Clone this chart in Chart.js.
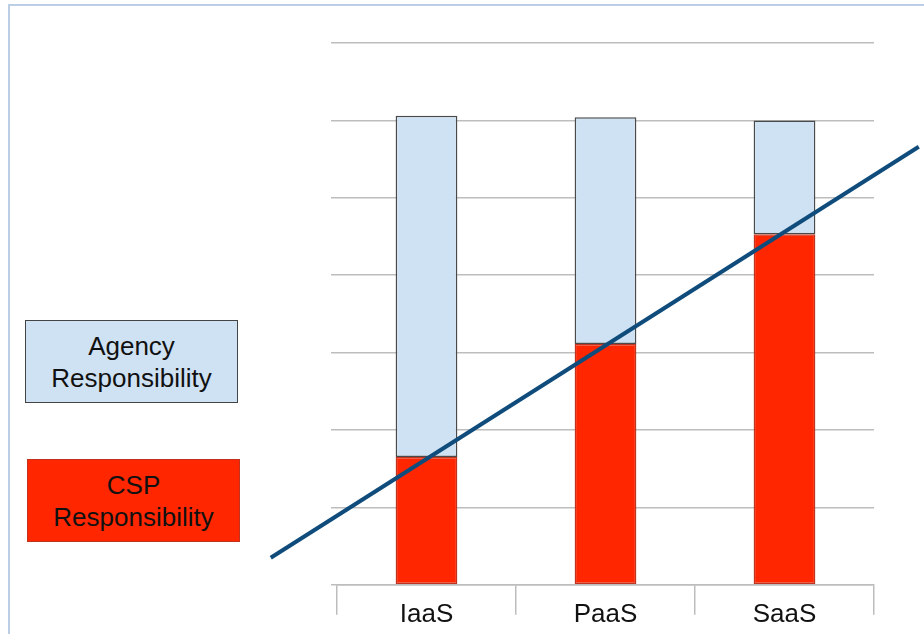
<!DOCTYPE html>
<html>
<head>
<meta charset="utf-8">
<script src="https://cdn.jsdelivr.net/npm/chart.js@4.4.1/dist/chart.umd.min.js"></script>
<style>
  html, body { margin: 0; padding: 0; background: #fff; }
  #wrap { position: relative; width: 924px; height: 634px; overflow: hidden; }
  #frame { position: absolute; left: 8px; top: 4px; right: -10px; bottom: -10px;
           border-left: 2px solid #bccde6; border-top: 2px solid #bccde6; }
  #chart { position: absolute; left: 0; top: 0; }
  .key { position: absolute; box-sizing: border-box; display: flex; align-items: center;
         justify-content: center; text-align: center; font-family: "Liberation Sans", Arial, sans-serif;
         font-size: 26px; line-height: 32px; color: #111; }
</style>
</head>
<body>
<div id="wrap">
  <div id="frame"></div>
  <canvas id="chart" width="924" height="634"></canvas>
  <div id="keys"></div>
</div>
<script>
// categories and series values (units of gridlines)
const categories = ['IaaS', 'PaaS', 'SaaS']
const seriesNames = ['Agency\nResponsibility', 'CSP\nResponsibility']
const agencyValues = [4.41, 2.93, 1.47]
const cspValues = [1.65, 3.11, 4.53]
// trend line drawn across the bars: x in category units, y in value units
const trendX = [-0.87, 2.75]
const trendY = [0.35, 5.66]
const yMax = 7

const agencyColor = '#cfe2f3'
const cspColor = '#ff2600'
const gridColor = '#bdbdbd'

// legend boxes on the left, built from series names
const keyBoxes = [
  {name: seriesNames[0], fill: agencyColor, border: '#444', left: 25, top: 320, w: 213, h: 83},
  {name: seriesNames[1], fill: cspColor, border: '#c0331f', left: 27, top: 459, w: 213, h: 83}
]
const keys = document.getElementById('keys')
keyBoxes.forEach(k => {
  const d = document.createElement('div')
  d.className = 'key'
  d.style.left = k.left + 'px'
  d.style.top = k.top + 'px'
  d.style.width = k.w + 'px'
  d.style.height = k.h + 'px'
  d.style.background = k.fill
  d.style.border = '1.5px solid ' + k.border
  d.innerHTML = k.name.split('\n').join('<br>')
  keys.appendChild(d)
})

const ctx = document.getElementById('chart')
const trendPoints = trendX.map((x, i) => ({x: x, y: trendY[i]}))

new Chart(ctx, {
  type: 'bar',
  data: {
    labels: categories,
    datasets: [
      {
        label: 'CSP Responsibility',
        data: cspValues,
        backgroundColor: cspColor,
        borderColor: '#c0331f',
        borderWidth: 1.5,
        borderSkipped: false,
        grouped: false,
        categoryPercentage: 1,
        barPercentage: 0.345,
        order: 1
      },
      {
        label: 'Agency Responsibility',
        data: agencyValues,
        backgroundColor: agencyColor,
        borderColor: '#4a4a4a',
        borderWidth: 1.5,
        borderSkipped: false,
        grouped: false,
        categoryPercentage: 1,
        barPercentage: 0.345,
        order: 1
      },
      {
        type: 'line',
        label: 'trend',
        data: trendPoints,
        xAxisID: 'x2',
        borderColor: '#0f4c7c',
        borderWidth: 4,
        pointRadius: 0,
        clip: false,
        order: 0
      }
    ]
  },
  options: {
    responsive: false,
    animation: false,
    events: [],
    layout: {padding: {left: 331, right: 50, top: 43, bottom: 1}},
    plugins: {legend: {display: false}, tooltip: {enabled: false}},
    scales: {
      x: {
        stacked: true,
        offset: true,
        grid: {offset: true, drawOnChartArea: false, drawTicks: true, tickLength: 30, color: gridColor, lineWidth: 1.5},
        border: {display: true, color: gridColor, width: 1.5},
        ticks: {
          color: '#111',
          padding: 0,
          crossAlign: 'center',
          font: {family: '"Liberation Sans", Arial, sans-serif', size: 26, lineHeight: 0.7}
        }
      },
      x2: {
        type: 'linear',
        display: false,
        offset: false,
        min: -0.5,
        max: 2.5
      },
      y: {
        stacked: true,
        min: 0,
        max: yMax,
        ticks: {display: false, stepSize: 1},
        grid: {color: gridColor, lineWidth: 1.5, drawTicks: true, tickLength: 6},
        border: {display: false}
      }
    }
  }
})
</script>
</body>
</html>
